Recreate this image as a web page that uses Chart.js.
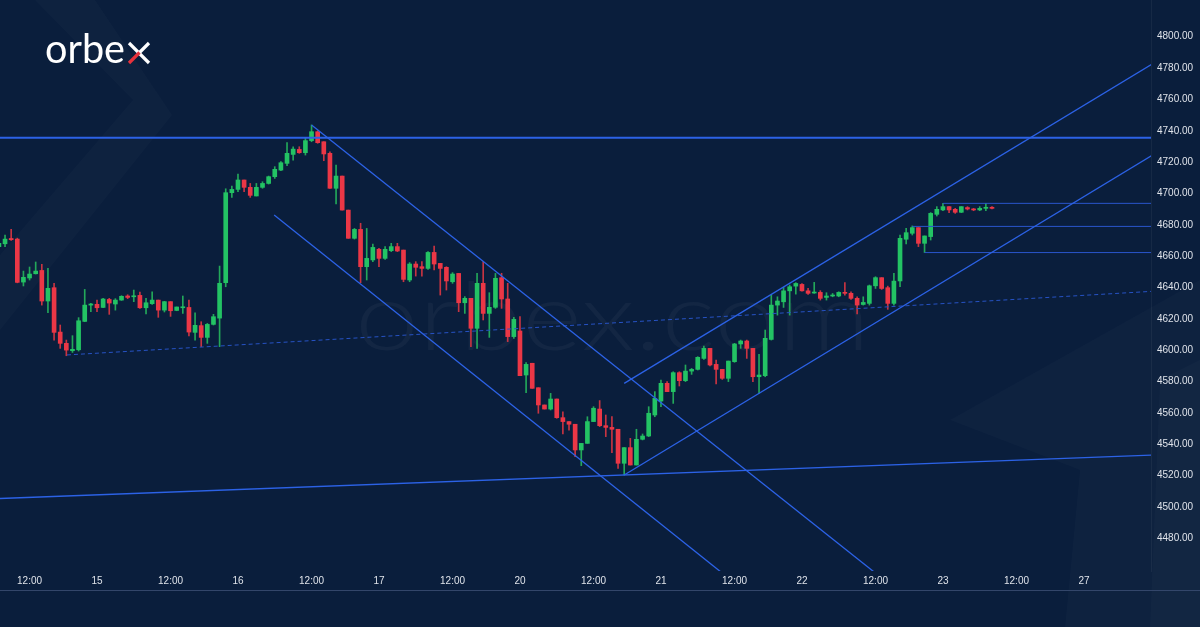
<!DOCTYPE html>
<html>
<head>
<meta charset="utf-8">
<script src="https://cdn.jsdelivr.net/npm/chart.js@4.4.1/dist/chart.umd.min.js"></script>
<style>
    html, body { margin: 0; padding: 0; background: #0a1e3c; overflow: hidden; }
    canvas { display: block; }
</style>
</head>
<body>
<canvas id="goldChart" width="1200" height="627"></canvas>
<script>
// 1H candles, bar 0 = day 14 00:00, 23 bars per trading day
const firstBar = 7;

const opens = [
    4666.0, 4667.9, 4671.3, 4670.9, 4643.5, 4646.1, 4648.8, 4650.9, 4631.4, 4639.9,
    4611.6, 4604.4, 4599.7, 4600.3, 4618.4, 4628.8, 4629.3, 4627.3, 4632.4, 4629.5,
    4632.0, 4634.6, 4634.1, 4635.0, 4627.1, 4629.7, 4632.0, 4625.6, 4631.0, 4625.4,
    4627.1, 4627.3, 4611.4, 4615.7, 4608.2, 4616.5, 4620.5, 4643.1, 4700.5, 4702.6,
    4708.6, 4703.9, 4698.4, 4703.9, 4706.4, 4710.7, 4714.9, 4719.2, 4724.9, 4728.1,
    4726.0, 4733.7, 4739.4, 4733.0, 4725.6, 4703.3, 4711.1, 4689.4, 4671.4, 4677.1,
    4653.3, 4657.6, 4664.4, 4658.6, 4663.5, 4666.1, 4663.9, 4644.8, 4655.0, 4653.3,
    4652.2, 4662.4, 4655.4, 4652.9, 4643.7, 4649.0, 4630.3, 4633.1, 4614.0, 4642.7,
    4623.5, 4627.4, 4646.3, 4632.7, 4608.7, 4612.3, 4584.2, 4591.7, 4576.1, 4565.1,
    4562.5, 4568.9, 4557.0, 4554.5, 4552.8, 4536.4, 4540.6, 4554.5, 4562.5, 4551.9,
    4550.8, 4549.6, 4527.9, 4537.9, 4526.8, 4543.2, 4545.3, 4558.7, 4567.6, 4578.9,
    4573.6, 4585.7, 4580.6, 4586.7, 4587.8, 4594.8, 4601.2, 4591.0, 4587.8, 4582.1,
    4592.7, 4604.0, 4605.9, 4601.2, 4583.1, 4583.8, 4606.9, 4628.8, 4630.9, 4637.9,
    4640.9, 4642.0, 4637.9, 4636.5, 4636.9, 4633.7, 4634.6, 4634.6, 4636.9, 4636.3,
    4633.1, 4629.2, 4629.9, 4641.1, 4646.3, 4639.9, 4629.9, 4644.2, 4670.8, 4674.6,
    4678.2, 4668.2, 4672.5, 4686.7, 4689.5, 4691.6, 4689.9, 4688.0, 4691.0, 4690.1,
    4689.5, 4690.5, 4691.2
];
const highs = [
    4670.0, 4673.5, 4677.1, 4671.5, 4650.5, 4653.1, 4656.3, 4654.8, 4652.2, 4642.7,
    4616.1, 4606.5, 4609.3, 4620.8, 4638.8, 4629.9, 4632.0, 4633.1, 4633.1, 4632.9,
    4634.8, 4635.4, 4638.4, 4637.1, 4633.1, 4637.3, 4632.0, 4631.2, 4631.0, 4627.6,
    4634.6, 4632.0, 4623.9, 4618.2, 4617.1, 4622.9, 4653.7, 4703.0, 4704.7, 4712.4,
    4708.6, 4706.4, 4706.4, 4707.5, 4711.1, 4717.1, 4720.3, 4732.4, 4729.8, 4729.8,
    4735.8, 4743.7, 4740.0, 4733.0, 4726.6, 4718.1, 4711.1, 4689.4, 4677.7, 4681.0,
    4677.7, 4667.7, 4665.0, 4666.1, 4668.2, 4668.2, 4663.9, 4655.9, 4656.5, 4656.5,
    4662.9, 4666.5, 4655.4, 4653.3, 4649.5, 4649.0, 4634.2, 4633.1, 4649.0, 4656.5,
    4636.7, 4649.0, 4649.1, 4642.7, 4621.0, 4621.4, 4592.1, 4591.7, 4576.1, 4565.1,
    4572.5, 4568.9, 4560.8, 4554.5, 4552.8, 4540.6, 4557.6, 4564.0, 4567.9, 4558.7,
    4557.7, 4549.6, 4537.9, 4543.8, 4549.6, 4546.6, 4564.0, 4573.6, 4581.0, 4580.0,
    4586.3, 4586.3, 4590.6, 4588.4, 4595.9, 4602.7, 4601.2, 4593.8, 4587.8, 4593.1,
    4604.4, 4606.5, 4606.5, 4601.2, 4597.4, 4612.9, 4635.2, 4634.1, 4640.1, 4641.6,
    4643.1, 4642.6, 4639.5, 4643.3, 4638.0, 4636.7, 4636.2, 4637.3, 4643.1, 4637.3,
    4634.1, 4634.1, 4641.6, 4646.9, 4646.3, 4640.9, 4649.0, 4673.5, 4677.8, 4679.3,
    4678.2, 4672.9, 4687.8, 4691.6, 4693.7, 4691.6, 4690.5, 4691.6, 4691.6, 4690.5,
    4691.6, 4693.7, 4691.6
];
const lows = [
    4664.0, 4666.0, 4670.0, 4643.0, 4641.0, 4644.8, 4648.6, 4628.8, 4624.0, 4606.5,
    4601.2, 4596.5, 4598.6, 4599.5, 4618.2, 4624.6, 4624.6, 4627.1, 4622.9, 4625.6,
    4631.8, 4632.9, 4631.0, 4626.7, 4623.1, 4629.3, 4621.0, 4624.4, 4621.6, 4625.2,
    4623.5, 4609.1, 4606.5, 4602.3, 4604.4, 4616.1, 4602.3, 4640.5, 4697.5, 4701.1,
    4701.1, 4697.5, 4698.4, 4703.3, 4706.0, 4709.6, 4714.5, 4717.7, 4721.3, 4725.6,
    4724.5, 4733.0, 4732.0, 4720.9, 4703.3, 4693.3, 4689.4, 4671.4, 4670.9, 4643.1,
    4644.8, 4656.5, 4653.3, 4658.0, 4662.9, 4662.9, 4643.7, 4643.7, 4647.3, 4647.3,
    4651.6, 4651.2, 4635.2, 4638.4, 4642.7, 4624.6, 4623.5, 4602.3, 4601.2, 4619.3,
    4608.2, 4626.7, 4626.7, 4605.5, 4607.6, 4583.8, 4572.9, 4575.7, 4559.8, 4562.5,
    4561.9, 4556.6, 4546.6, 4549.1, 4532.1, 4526.4, 4540.6, 4554.5, 4551.3, 4544.9,
    4534.7, 4524.7, 4520.4, 4526.8, 4526.8, 4542.8, 4544.9, 4557.6, 4564.0, 4573.6,
    4566.1, 4577.2, 4580.0, 4584.6, 4587.4, 4594.2, 4590.0, 4578.5, 4581.4, 4580.0,
    4592.3, 4601.2, 4594.8, 4580.0, 4572.5, 4583.1, 4606.5, 4622.4, 4627.3, 4622.4,
    4635.8, 4637.7, 4635.6, 4636.3, 4632.0, 4632.0, 4634.1, 4634.1, 4635.2, 4632.4,
    4623.1, 4628.8, 4628.8, 4639.4, 4638.8, 4626.1, 4628.8, 4640.6, 4667.8, 4673.5,
    4666.1, 4662.3, 4670.3, 4685.6, 4689.0, 4687.8, 4687.3, 4687.8, 4689.5, 4689.0,
    4689.0, 4689.0, 4690.1
];
const closes = [
    4668.2, 4670.9, 4670.5, 4643.3, 4646.5, 4648.6, 4650.5, 4631.4, 4639.5, 4611.4,
    4604.4, 4600.1, 4600.6, 4618.8, 4628.8, 4629.5, 4627.1, 4632.7, 4630.1, 4632.0,
    4634.4, 4633.7, 4634.6, 4627.1, 4630.3, 4632.0, 4625.6, 4631.0, 4625.2, 4627.6,
    4627.6, 4611.6, 4615.9, 4608.2, 4616.5, 4621.4, 4642.7, 4700.5, 4702.6, 4708.6,
    4703.9, 4698.8, 4703.9, 4706.4, 4710.7, 4715.4, 4719.6, 4725.6, 4728.3, 4726.0,
    4733.7, 4739.4, 4732.4, 4725.2, 4703.3, 4711.1, 4689.4, 4671.4, 4677.1, 4653.3,
    4658.6, 4665.6, 4658.6, 4664.4, 4666.1, 4663.3, 4645.2, 4655.0, 4652.9, 4652.2,
    4662.4, 4655.0, 4652.2, 4644.2, 4648.6, 4630.3, 4633.1, 4614.0, 4642.7, 4623.5,
    4627.4, 4645.9, 4632.7, 4608.7, 4619.7, 4583.8, 4591.0, 4575.7, 4565.1, 4562.5,
    4568.9, 4557.0, 4554.5, 4552.8, 4536.4, 4540.6, 4554.5, 4563.0, 4551.9, 4550.8,
    4549.6, 4527.9, 4537.9, 4526.8, 4543.2, 4545.3, 4559.8, 4569.3, 4578.9, 4573.6,
    4585.7, 4580.6, 4586.7, 4587.8, 4595.5, 4601.2, 4590.6, 4587.8, 4582.1, 4593.1,
    4604.0, 4605.9, 4601.2, 4583.1, 4584.2, 4607.6, 4628.8, 4631.4, 4637.9, 4640.5,
    4642.6, 4637.9, 4636.3, 4636.9, 4633.1, 4634.6, 4634.8, 4636.9, 4636.3, 4633.1,
    4628.8, 4630.5, 4641.1, 4646.3, 4639.4, 4629.9, 4644.1, 4671.4, 4675.0, 4678.2,
    4668.2, 4672.9, 4687.3, 4689.9, 4691.6, 4689.5, 4688.0, 4691.6, 4690.1, 4689.5,
    4690.5, 4691.2, 4690.5
];

// axis ticks
const priceTicks = [4480, 4500, 4520, 4540, 4560, 4580, 4600, 4620, 4640, 4660, 4680, 4700, 4720, 4740, 4760, 4780, 4800];
const timeTickBars = [12, 23, 35, 46, 58, 69, 81, 92, 104, 115, 127, 138, 150, 161, 173, 184];
const timeTickLabels = ['12:00', '15', '12:00', '16', '12:00', '17', '12:00', '20', '12:00', '21', '12:00', '22', '12:00', '23', '12:00', '27'];

// hand-drawn lines, [bar, price]
const resistanceLine = [[0, 4735.5], [200, 4735.5]];
const fallUpperLine = [[58.0, 4743.6], [150.6, 4456.0]];
const fallLowerLine = [[51.9, 4686.2], [125.6, 4456.0]];
const riseUpperLine = [[109.0, 4578.9], [200, 4794.0]];
const riseLowerLine = [[109.0, 4520.4], [200, 4735.9]];
const baseLine = [[0, 4504.4], [200, 4533.9]];
const dashedLine = [[18.1, 4597.0], [200, 4638.7]];
const levelTop = [[161, 4693.7], [200, 4693.7]];
const levelMid = [[156, 4679.0], [200, 4679.0]];
const levelLow = [[158, 4662.3], [200, 4662.3]];

const xMin = 7.178, xMax = 194.94;
const yMin = 4459.2, yMax = 4823.4;

const upColor = '#23c364';
const downColor = '#eb3746';
const upWick = '#23a85a';
const downWick = '#c83442';
const lineBlue = '#2c62e6';
const labelColor = '#dfe3ea';

const isUp = (i) => closes[i] >= opens[i];

function toPoints(pairs) {
    return pairs.map(p => ({ x: p[0], y: p[1] }));
}

function lineSet(pairs, width, color, dash) {
    return {
        type: 'line',
        data: toPoints(pairs),
        borderColor: color,
        borderWidth: width,
        borderDash: dash || [],
        pointRadius: 0,
        fill: false,
        tension: 0,
        order: 0
    };
}

// background, watermark, logo
const decorPlugin = {
    id: 'decor',
    beforeDraw(chart) {
        const ctx = chart.ctx;
        ctx.save();
        ctx.fillStyle = '#0a1e3c';
        ctx.fillRect(0, 0, chart.width, chart.height);

        // faint chevron at left
        ctx.fillStyle = 'rgba(255,255,255,0.018)';
        ctx.beginPath();
        ctx.moveTo(35, 0); ctx.lineTo(95, 0); ctx.lineTo(172, 115);
        ctx.lineTo(0, 330); ctx.lineTo(0, 255); ctx.lineTo(133, 100);
        ctx.closePath(); ctx.fill();

        // lighter panels at bottom right
        ctx.fillStyle = 'rgba(255,255,255,0.02)';
        ctx.beginPath();
        ctx.moveTo(1200, 280); ctx.lineTo(1200, 627); ctx.lineTo(1065, 627);
        ctx.lineTo(1080, 470); ctx.lineTo(950, 420);
        ctx.closePath(); ctx.fill();
        ctx.beginPath();
        ctx.moveTo(1200, 360); ctx.lineTo(1200, 627); ctx.lineTo(1150, 627); ctx.lineTo(1160, 380);
        ctx.closePath(); ctx.fill();
        ctx.restore();
    },
    beforeDatasetsDraw(chart) {
        const ctx = chart.ctx;
        ctx.save();
        ctx.font = '300 100px Lato';
        const w = ctx.measureText('orbex.com').width;
        ctx.translate(355, 350);
        ctx.scale(515 / w, 0.95);
        ctx.fillStyle = 'rgba(255,255,255,0.04)';
        ctx.textBaseline = 'alphabetic';
        ctx.fillText('orbex.com', 0, 0);
        ctx.restore();
    },
    afterDraw(chart) {
        const ctx = chart.ctx;
        ctx.save();
        // time axis bottom line
        ctx.fillStyle = '#33466a';
        ctx.fillRect(0, 590, chart.width, 1);

        // logo
        ctx.font = '40px Lato';
        const w = ctx.measureText('orbe').width;
        ctx.translate(45, 63);
        ctx.scale(80 / w, 1);
        ctx.fillStyle = '#ffffff';
        ctx.fillText('orbe', 0, 0);
        ctx.restore();

        ctx.save();
        ctx.lineWidth = 3.2;
        ctx.strokeStyle = '#ffffff';
        ctx.beginPath(); ctx.moveTo(129, 43); ctx.lineTo(149, 63); ctx.stroke();
        ctx.beginPath(); ctx.moveTo(139, 53); ctx.lineTo(149, 43); ctx.stroke();
        ctx.strokeStyle = '#e8323c';
        ctx.beginPath(); ctx.moveTo(129, 63); ctx.lineTo(139.5, 52.5); ctx.stroke();
        ctx.restore();
    }
};

const bodyData = opens.map((o, i) => ({ x: firstBar + i, y: [o, closes[i]] }));
const wickData = highs.map((h, i) => ({ x: firstBar + i, y: [lows[i], h] }));

new Chart(document.getElementById('goldChart'), {
    type: 'bar',
    data: {
        datasets: [
            lineSet(resistanceLine, 2, lineBlue),
            lineSet(fallUpperLine, 1.3, lineBlue),
            lineSet(fallLowerLine, 1.3, lineBlue),
            lineSet(riseUpperLine, 1.3, lineBlue),
            lineSet(riseLowerLine, 1.3, lineBlue),
            lineSet(baseLine, 1.3, lineBlue),
            lineSet(dashedLine, 1, '#2652c4', [4, 3]),
            lineSet(levelTop, 1, '#2a56cc'),
            lineSet(levelMid, 1, '#2a56cc'),
            lineSet(levelLow, 1, '#2a56cc'),
            {
                type: 'bar',
                data: bodyData,
                backgroundColor: (c) => isUp(c.dataIndex) ? upColor : downColor,
                borderWidth: 0,
                barThickness: 4,
                minBarLength: 1,
                grouped: false,
                order: 1
            },
            {
                type: 'bar',
                data: wickData,
                backgroundColor: (c) => isUp(c.dataIndex) ? upWick : downWick,
                borderWidth: 0,
                barThickness: 1,
                grouped: false,
                order: 2
            }
        ]
    },
    options: {
        responsive: false,
        animation: false,
        devicePixelRatio: 1,
        layout: { padding: { left: 0, right: 0, top: 0, bottom: 36 } },
        plugins: {
            legend: { display: false },
            tooltip: { enabled: false }
        },
        scales: {
            x: {
                type: 'linear',
                min: xMin,
                max: xMax,
                offset: false,
                grid: { display: false, drawTicks: false, offset: false },
                border: { display: false },
                ticks: {
                    color: labelColor,
                    font: { family: 'Liberation Sans', size: 10 },
                    padding: 4,
                    maxRotation: 0,
                    autoSkip: false,
                    callback: (v) => timeTickLabels[timeTickBars.indexOf(v)]
                },
                afterBuildTicks: (scale) => {
                    scale.ticks = timeTickBars.map(v => ({ value: v }));
                },
                afterFit: (scale) => {
                    scale.height = 20;
                    scale.paddingLeft = 0;
                    scale.paddingRight = 0;
                }
            },
            y: {
                type: 'linear',
                position: 'right',
                min: yMin,
                max: yMax,
                grid: { display: false, drawTicks: false },
                border: { display: true, color: 'rgba(255,255,255,0.05)' },
                ticks: {
                    color: labelColor,
                    font: { family: 'Liberation Sans', size: 10 },
                    padding: 6,
                    autoSkip: false,
                    callback: (v) => v.toFixed(2)
                },
                afterBuildTicks: (scale) => {
                    scale.ticks = priceTicks.map(v => ({ value: v }));
                },
                afterFit: (scale) => {
                    scale.width = 49;
                    scale.paddingTop = 0;
                    scale.paddingBottom = 0;
                }
            }
        }
    },
    plugins: [decorPlugin]
});
</script>
</body>
</html>
